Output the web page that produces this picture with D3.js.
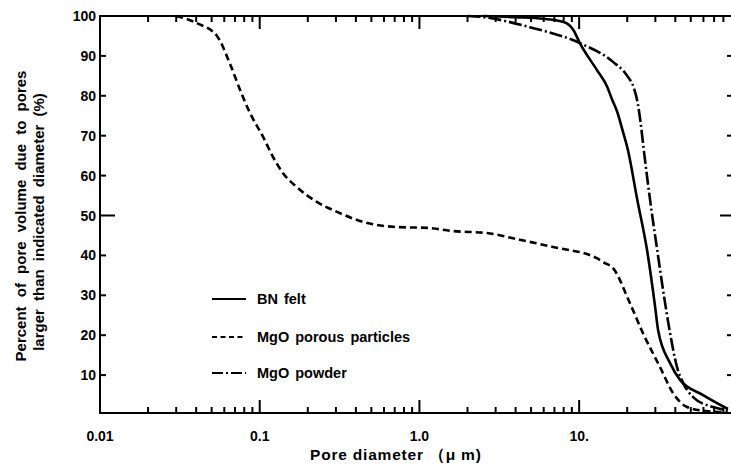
<!DOCTYPE html>
<html lang="en">
<head>
<meta charset="utf-8"/>
<title>Pore size distribution</title>
<script src="https://d3js.org/d3.v7.min.js"></script>
<style>
    body { margin: 0; background: #fff; }
    svg { display: block; font-family: "Liberation Sans", Arial, sans-serif; }
    .axis text { font-size: 14px; font-weight: bold; fill: #000; }
    .tk { stroke: #000; stroke-width: 2; }
    .curve { fill: none; stroke: #000; stroke-width: 2.6; }
    .lbl { font-weight: bold; fill: #000; }
</style>
</head>
<body>
<svg id="chart"></svg>
<script>
    const width = 731, height = 466;

    // data: pore diameter (um) vs cumulative percent
    const bnX = [2.5, 4, 6, 8, 9.2, 10.1, 12.9, 15.0, 16.1, 17.3, 18.8, 20.2, 23.1, 26.6, 29.9, 31.2, 37.1, 42.8, 59.7, 85.5];
    const bnY = [100, 99.7, 99.3, 98.5, 96.5, 93.2, 86.5, 82.2, 79, 76, 71, 66.4, 54, 41.4, 27.1, 21.3, 13, 8.8, 5, 1.5];

    const porousX = [0.030, 0.0405, 0.054, 0.0652, 0.0753, 0.0869, 0.105, 0.121, 0.140, 0.171, 0.228, 0.305, 0.444, 0.724, 1.12, 1.62, 2.65, 4.26, 6.87, 12.9, 14.1, 16.3, 20.8, 25.1, 32.1, 38.7, 47.4, 62, 85];
    const porousY = [100, 98.2, 95, 88, 81.5, 75.7, 69.7, 64.7, 60.6, 57.1, 53.4, 50.9, 48.4, 47.1, 46.9, 46.1, 45.6, 43.9, 42.1, 39.3, 38.3, 36.8, 28, 20.5, 12, 5.5, 2, 1, 0.7];

    const powderX = [2.0, 2.4, 4.9, 10.1, 16.3, 20.0, 22.0, 23.3, 24.3, 25.4, 27.8, 30.8, 34.5, 37.1, 41.0, 44.8, 51.7, 68.8, 85.5];
    const powderY = [100, 99.8, 97.2, 93.2, 88.5, 85, 82, 78, 73, 66.4, 53.9, 41.4, 28.1, 20.5, 12, 8, 4.5, 2, 1.2];

    const seriesNames = ["BN felt", "MgO porous particles", "MgO powder"];
    const xMajor = [0.01, 0.1, 1, 10];
    const xMajorLabels = ["0.01", "0.1", "1.0", "10."];
    const yTicks = [10, 20, 30, 40, 50, 60, 70, 80, 90, 100];

    const svg = d3.select("#chart").attr("width", width).attr("height", height);

    const x = d3.scaleLog().domain([0.01, 85.5]).range([100, 728]);
    const y = d3.scaleLinear().domain([0.5, 100]).range([413, 16]);

    const yBottom = y.range()[0], yTop = y.range()[1];

    // minor ticks 2..9 per decade
    const xMinor = [];
    [0.01, 0.1, 1, 10].forEach(d => {
        for (let k = 2; k <= 9; k++) if (d * k <= 85.5) xMinor.push(d * k);
    });
    const xTickData = xMinor.map(v => ({ v, len: 6 }))
        .concat(xMajor.slice(1).map(v => ({ v, len: 13 })));

    const frame = svg.append("g").attr("class", "axis");

    // frame lines
    frame.append("line").attr("class", "tk")
        .attr("x1", 100).attr("x2", width).attr("y1", yBottom).attr("y2", yBottom);
    frame.append("line").attr("class", "tk")
        .attr("x1", 100).attr("x2", width).attr("y1", yTop).attr("y2", yTop);
    frame.append("line").attr("class", "tk")
        .attr("x1", 100).attr("x2", 100).attr("y1", yTop - 1).attr("y2", yBottom + 1);

    // x ticks, bottom (pointing up) and top (pointing down)
    frame.selectAll(".xtb").data(xTickData).join("line")
        .attr("class", "tk xtb")
        .attr("x1", d => x(d.v)).attr("x2", d => x(d.v))
        .attr("y1", yBottom).attr("y2", d => yBottom - d.len);
    frame.selectAll(".xtt").data(xTickData).join("line")
        .attr("class", "tk xtt")
        .attr("x1", d => x(d.v)).attr("x2", d => x(d.v))
        .attr("y1", yTop).attr("y2", d => yTop + d.len);

    // x labels
    frame.selectAll(".xl").data(xMajor).join("text")
        .attr("class", "xl")
        .attr("x", d => x(d)).attr("y", 441)
        .attr("text-anchor", "middle")
        .text((d, i) => xMajorLabels[i]);

    // y ticks left and right
    frame.selectAll(".ytl").data(yTicks.filter(d => d < 100)).join("line")
        .attr("class", "tk ytl")
        .attr("x1", 100).attr("x2", d => d === 50 ? 115 : 106)
        .attr("y1", d => y(d)).attr("y2", d => y(d));
    frame.selectAll(".ytr").data(yTicks.filter(d => d < 100)).join("line")
        .attr("class", "tk ytr")
        .attr("x1", width).attr("x2", d => d === 50 ? width - 11 : width - 4)
        .attr("y1", d => y(d)).attr("y2", d => y(d));

    frame.selectAll(".yl").data(yTicks).join("text")
        .attr("class", "yl")
        .attr("x", 96).attr("y", d => y(d))
        .attr("dy", "0.36em")
        .attr("text-anchor", "end")
        .text(d => d);

    const line = d3.line()
        .x(d => x(d[0]))
        .y(d => y(d[1]))
        .curve(d3.curveMonotoneX);

    const series = [
        { xs: bnX, ys: bnY, dash: null },
        { xs: porousX, ys: porousY, dash: "7,4" },
        { xs: powderX, ys: powderY, dash: "13,3,2,3" }
    ];

    series.forEach(s => {
        svg.append("path")
            .attr("class", "curve")
            .attr("d", line(d3.zip(s.xs, s.ys)))
            .attr("stroke-dasharray", s.dash);
    });

    // legend
    const legY = [299, 337, 373];
    series.forEach((s, i) => {
        svg.append("line")
            .attr("x1", 212).attr("x2", 246)
            .attr("y1", legY[i]).attr("y2", legY[i])
            .attr("stroke", "#000").attr("stroke-width", 2)
            .attr("stroke-dasharray", i === 1 ? "5,3.5" : (i === 2 ? "11,3,2,3" : null));
        svg.append("text")
            .attr("class", "lbl")
            .attr("x", 257).attr("y", legY[i])
            .attr("dy", "0.36em")
            .style("font-size", "14.5px")
            .style("word-spacing", "2px")
            .text(seriesNames[i]);
    });

    // axis titles
    svg.append("text")
        .attr("class", "lbl")
        .attr("x", 310).attr("y", 460)
        .style("font-size", "15.5px")
        .style("letter-spacing", "0.8px")
        .text("Pore diameter （μ m)");

    svg.append("text")
        .attr("class", "lbl")
        .attr("transform", "translate(21,216) rotate(-90)")
        .attr("text-anchor", "middle")
        .attr("dy", "0.36em")
        .style("font-size", "15px")
        .style("word-spacing", "5px")
        .text("Percent of pore volume due to pores");

    svg.append("text")
        .attr("class", "lbl")
        .attr("transform", "translate(39,222) rotate(-90)")
        .attr("text-anchor", "middle")
        .attr("dy", "0.36em")
        .style("font-size", "15px")
        .style("word-spacing", "4px")
        .text("larger than indicated diameter (%)");
</script>
</body>
</html>
